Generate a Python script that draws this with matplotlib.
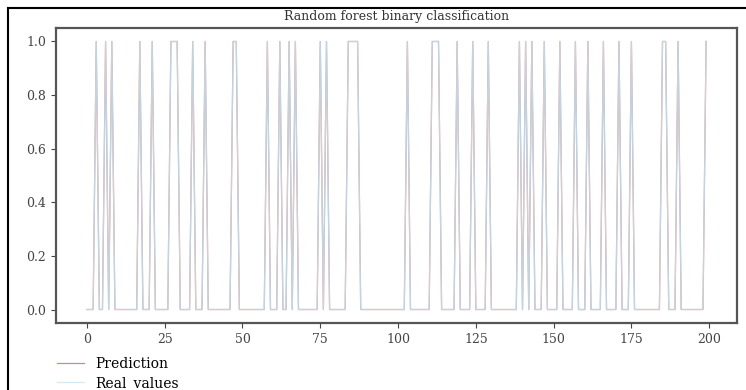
import numpy as np
import matplotlib
matplotlib.use("Agg")
import matplotlib.pyplot as plt
from matplotlib.lines import Line2D

# indices where the class is 1, 200 samples in total
n_samples = 200
real_ones = [3, 6, 8, 17, 21, 27, 28, 29, 34, 38, 47, 48, 58, 62, 65, 67, 75, 77,
             84, 85, 86, 87, 103, 111, 112, 113, 119, 124, 129, 139, 141, 143,
             147, 152, 157, 161, 166, 171, 175, 185, 186, 190, 199]
pred_ones = list(real_ones)

real_values = np.zeros(n_samples)
real_values[real_ones] = 1
prediction = np.zeros(n_samples)
prediction[pred_ones] = 1

plt.rcParams['font.family'] = 'DejaVu Serif'

fig = plt.figure(figsize=(7.46, 3.9), dpi=100)
ax = fig.add_axes([0.075, 0.172, 0.913, 0.756])

ax.plot(prediction, color='#c98c8c', lw=0.9, label='Prediction')
ax.plot(real_values, color='#c6e4f1', lw=0.9, alpha=0.8, label='Real_values')

ax.set_title('Random forest binary classification', fontsize=9, color='#333333')
ax.set_xticks(np.arange(0, 201, 25))
ax.set_yticks(np.arange(0, 1.01, 0.2))
ax.tick_params(labelsize=9, colors='#444444')
for s in ax.spines.values():
    s.set_linewidth(1.6)
    s.set_color('#555555')

fig.legend(loc='upper left', bbox_to_anchor=(0.076, 0.085),
           bbox_transform=fig.transFigure, frameon=False, fontsize=10,
           borderpad=0, borderaxespad=0, labelspacing=0.35, handlelength=2.0)

# screenshot frame
fig.add_artist(Line2D([8 / 746, 8 / 746], [0, 1 - 8 / 390], color='black', lw=1.5,
                      transform=fig.transFigure))
fig.add_artist(Line2D([8 / 746, 1], [1 - 8 / 390, 1 - 8 / 390], color='black', lw=1.5,
                      transform=fig.transFigure))

fig.savefig('out.png', dpi=100)
